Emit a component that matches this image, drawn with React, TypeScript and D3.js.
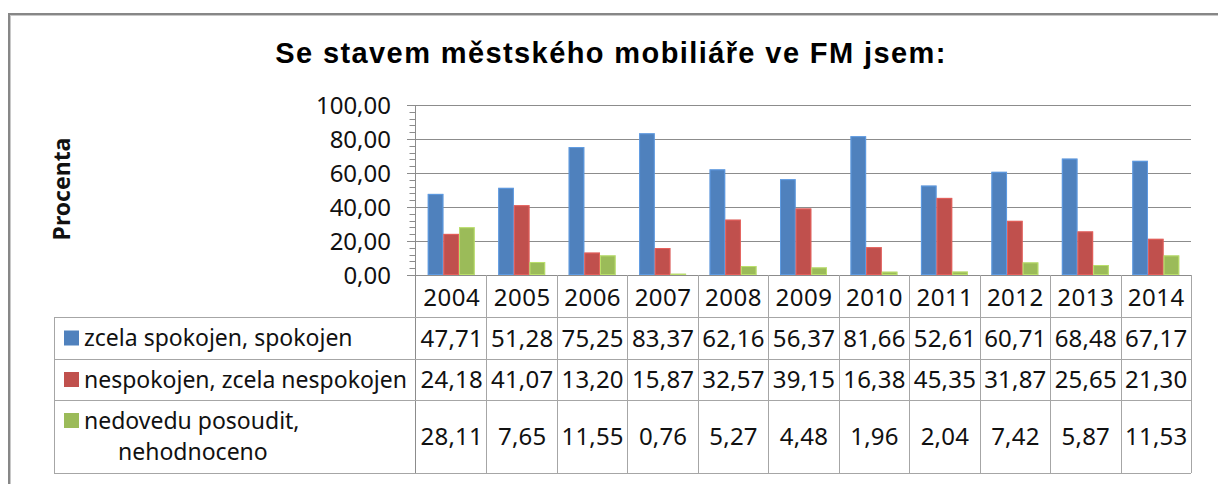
import React from "react";
import * as d3 from "d3";

const title = "Se stavem městského mobiliáře ve FM jsem:";
const yAxisTitle = "Procenta";
const years = ["2004", "2005", "2006", "2007", "2008", "2009", "2010", "2011", "2012", "2013", "2014"];
const seriesNames = ["zcela spokojen, spokojen", "nespokojen, zcela nespokojen", "nedovedu posoudit, nehodnoceno"];
const seriesLabelLines = [["zcela spokojen, spokojen"], ["nespokojen, zcela nespokojen"], ["nedovedu posoudit,", "nehodnoceno"]];
const spokojen = [47.71, 51.28, 75.25, 83.37, 62.16, 56.37, 81.66, 52.61, 60.71, 68.48, 67.17];
const nespokojen = [24.18, 41.07, 13.2, 15.87, 32.57, 39.15, 16.38, 45.35, 31.87, 25.65, 21.3];
const nedovedu = [28.11, 7.65, 11.55, 0.76, 5.27, 4.48, 1.96, 2.04, 7.42, 5.87, 11.53];
const seriesValues = [spokojen, nespokojen, nedovedu];
const colors = ["#4F81BD", "#C0504D", "#9BBB59"];
const yTicks = [0, 20, 40, 60, 80, 100];
const yMinorTicks = d3.range(0, 101, 4);

const FONT = "'Noto Sans', 'Open Sans', sans-serif";
const fmt = (v: number) => d3.format(".2f")(v).replace(".", ",");

export default function App() {
  const W = 1218, H = 484;
  const plotLeft = 416, plotRight = 1191, plotTop = 105, plotBottom = 275;
  const tableLeft = 54;
  const rowLines = [275, 317, 359, 400, 473];

  const x = d3.scaleBand<string>().domain(years).range([plotLeft, plotRight]).padding(0);
  const y = d3.scaleLinear().domain([0, 100]).range([plotBottom, plotTop]);
  const bw = x.bandwidth();
  const barW = bw / 4.5;
  const gridColor = "#8c8c8c";
  const tableColor = "#a6a6a6";
  const textColor = "#111";
  const numSize = 24;
  const labelSize = 23;

  return (
    <svg width={W} height={H} style={{ position: "absolute", left: 0, top: 0, background: "#fff" }}>
      {/* outer chart border */}
      <rect x={9} y={14} width={W + 20} height={H + 20} fill="#fff" stroke="#878787" strokeWidth={2} />
      <rect x={10.5} y={15.5} width={W + 20} height={H + 20} fill="none" stroke="#c8c8c8" strokeWidth={1} />

      {/* title */}
      <text x={611} y={63} textAnchor="middle" fontFamily="'Liberation Sans', Arial, sans-serif" fontWeight="bold" fontSize={29} letterSpacing={1.4} fill="#000">
        {title}
      </text>

      {/* y axis title */}
      <text transform={`translate(70,189) rotate(-90)`} textAnchor="middle" fontFamily={FONT} fontWeight="bold" fontSize={23} fill={textColor}>
        {yAxisTitle}
      </text>

      {/* gridlines */}
      {yTicks.filter((t) => t > 0).map((t) => (
        <line key={"g" + t} x1={plotLeft} x2={plotRight} y1={Math.round(y(t)) + 0.5} y2={Math.round(y(t)) + 0.5} stroke={gridColor} strokeWidth={1} />
      ))}

      {/* bars */}
      {seriesValues.map((vals, si) =>
        vals.map((v, i) => {
          const bx = (x(years[i]) as number) + 0.75 * barW + si * barW;
          const by = y(v);
          const c = d3.color(colors[si])!.brighter(0.7).formatHex();
          return (
            <g key={`b${si}-${i}`}>
              <rect x={bx} y={by} width={barW} height={plotBottom - by} fill={colors[si]} />
              <rect x={bx + 0.5} y={by + 0.5} width={Math.max(0, barW - 1)} height={Math.max(0, plotBottom - by - 1)} fill="none" stroke={c} strokeWidth={1} strokeOpacity={0.7} />
            </g>
          );
        })
      )}

      {/* y axis minor ticks */}
      {yMinorTicks.map((t) => (
        <line key={"m" + t} x1={yTicks.includes(t) ? 407 : 409.5} x2={plotLeft} y1={Math.round(y(t)) + 0.5} y2={Math.round(y(t)) + 0.5} stroke={gridColor} strokeWidth={1} />
      ))}
      {/* y axis line */}
      <line x1={plotLeft - 0.5} x2={plotLeft - 0.5} y1={plotTop} y2={rowLines[4]} stroke={gridColor} strokeWidth={1} />

      {/* y tick labels */}
      {yTicks.map((t) => (
        <text key={"l" + t} x={391} y={y(t)} dy="0.36em" textAnchor="end" fontFamily={FONT} fontSize={numSize} fill={textColor}>
          {fmt(t)}
        </text>
      ))}

      {/* data table */}
      <g>
        {rowLines.map((ry, i) => (
          <line key={"r" + i} x1={i === 0 ? plotLeft : tableLeft} x2={plotRight} y1={ry + 0.5} y2={ry + 0.5} stroke={i === 0 ? gridColor : tableColor} strokeWidth={1} />
        ))}
        <line x1={tableLeft + 0.5} x2={tableLeft + 0.5} y1={rowLines[1]} y2={rowLines[4]} stroke={tableColor} strokeWidth={1} />
        {years.map((yr) => {
          const cx = (x(yr) as number) + bw;
          return <line key={"v" + yr} x1={Math.round(cx) + 0.5} x2={Math.round(cx) + 0.5} y1={rowLines[0]} y2={rowLines[4]} stroke={tableColor} strokeWidth={1} />;
        })}
        {years.map((yr) => (
          <text key={"y" + yr} x={(x(yr) as number) + bw / 2 + 0.5} y={(rowLines[0] + rowLines[1]) / 2 + 1} dy="0.36em" textAnchor="middle" fontFamily={FONT} fontSize={numSize} letterSpacing={0.5} fill={textColor}>
            {yr}
          </text>
        ))}
        {seriesValues.map((vals, si) => {
          const rTop = rowLines[si + 1], rBot = rowLines[si + 2];
          const cy = (rTop + rBot) / 2;
          const lines = seriesLabelLines[si];
          const lineH = 31;
          return (
            <g key={"row" + si}>
              <rect x={64} y={lines.length > 1 ? cy - lineH / 2 - 8 : cy - 7.5} width={15} height={15} fill={colors[si]} />
              {lines.map((ln, li) => (
                <text key={li} x={li === 0 ? 84 : 118} y={cy + (li - (lines.length - 1) / 2) * lineH} dy="0.36em" fontFamily={FONT} fontSize={labelSize} fill={textColor}>
                  {ln}
                </text>
              ))}
              {vals.map((v, i) => (
                <text key={i} x={(x(years[i]) as number) + bw / 2 + 0.5} y={cy} dy="0.36em" textAnchor="middle" fontFamily={FONT} fontSize={numSize} letterSpacing={0.2} fill={textColor}>
                  {fmt(v)}
                </text>
              ))}
            </g>
          );
        })}
      </g>
    </svg>
  );
}
